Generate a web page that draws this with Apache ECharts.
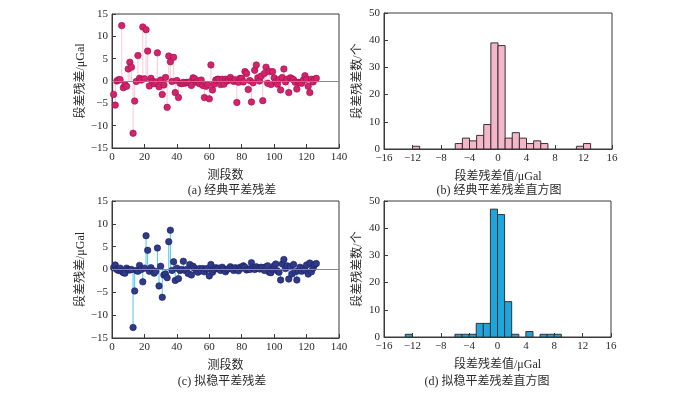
<!DOCTYPE html>
<html><head><meta charset="utf-8">
<script src="https://cdn.jsdelivr.net/npm/echarts@6/dist/echarts.min.js"></script>
<style>html,body{margin:0;padding:0;background:#fff}#c{width:700px;height:393px}</style>
</head><body><div id="c"></div>
<script>
// Residuals of segments 1..126 (μGal)
const residualsClassic = [
 -3.0,-5.4,0.0,0.3,0.3,12.4,-1.5,-0.8,-1.2,2.7,
 4.2,3.1,-11.7,-4.5,-0.1,5.7,0.6,0.2,12.1,0.5,
 11.5,6.7,-1.1,0.6,-0.1,-0.6,-0.2,6.3,-1.3,0.2,
 -3.0,-0.9,0.8,-5.9,5.6,4.3,-0.1,5.3,-2.6,0.1,
 -3.7,-0.5,-0.6,-0.3,-0.5,-0.3,-0.4,-0.2,-1.0,0.7,
 0.5,-0.3,0.0,-0.6,0.2,-1.0,-3.7,-1.2,-0.8,-4.0,
 3.6,-2.0,-0.7,0.2,0.4,0.4,-0.8,0.4,-0.7,0.4,
 0.0,0.3,0.8,0.2,-0.1,0.3,-4.8,-0.3,0.6,0.6,
 -0.2,2.1,1.7,-1.9,0.1,-4.7,-0.4,2.4,3.6,0.7,
 0.0,1.1,-4.4,1.7,3.1,-0.5,2.1,-0.8,2.1,0.7,
 -0.2,-0.7,0.3,-2.0,0.8,2.7,-0.2,0.4,-2.6,0.7,
 0.5,0.3,-0.3,-1.8,-0.3,-0.4,-0.5,0.2,1.2,0.4,
 -1.2,-2.6,0.4,-0.2,0.4,0.6
];
const residualsQuasi = [
 0.4,1.0,0.0,-0.2,0.3,-0.4,-0.7,-0.8,0.3,0.0,
 -0.1,0.0,-12.7,-4.7,-0.2,-0.4,0.9,0.0,-2.7,0.3,
 7.4,4.2,-0.4,0.4,-0.2,-0.8,-0.4,4.7,-3.6,0.7,
 -6.1,-1.2,-1.0,-1.8,6.1,8.6,-0.2,1.7,-2.4,0.3,
 -2.0,-0.2,0.0,1.8,-0.2,0.0,-0.9,1.1,-1.2,0.7,
 0.3,-0.2,-0.6,0.2,-0.3,0.2,-0.5,0.1,0.2,-1.4,
 1.1,-0.6,0.0,0.4,0.2,0.3,-0.2,0.5,0.1,-0.5,
 0.0,0.2,0.6,0.2,-0.2,0.4,0.1,-0.3,0.5,0.3,
 0.8,0.5,-0.1,0.1,0.0,1.5,0.3,0.0,0.6,0.3,
 0.1,0.5,0.4,-0.2,0.6,0.8,-0.6,-0.7,0.1,0.8,
 1.2,-0.3,-0.6,-2.3,1.2,2.2,0.2,0.8,-2.1,0.6,
 -1.0,1.1,-0.5,-2.3,-0.3,0.5,-0.4,0.2,-0.1,1.0,
 -1.0,1.4,-0.5,0.3,1.1,1.3
];
// Histogram bins (left edge of each 1-μGal bin) and counts
const histBinStartsClassic = [-12,-6,-5,-4,-3,-2,-1,0,1,2,3,4,5,6,11,12];
const histCountsClassic    = [1,2,4,3,5,9,39,38,4,6,4,2,3,2,1,2];
const histBinStartsQuasi   = [-13,-6,-5,-4,-3,-2,-1,0,1,2,4,6,7,8];
const histCountsQuasi      = [1,1,1,1,5,5,47,45,13,1,2,1,1,1];
const binWidth = 1;

const FONT = '"Liberation Serif","Noto Sans CJK SC",serif';
const TXT = '#2a2a2a';
const AX = '#3a3a3a';

const chart = echarts.init(document.getElementById('c'), null, {renderer:'canvas'});
const minusFmt = v => String(v).replace('-', '\u2212');

function xyPairs(arr){ return arr.map((v,i)=>[i+1, v]); }
function binTriples(starts, counts){ return starts.map((s,i)=>[s, s+binWidth, counts[i]]); }

function stemRender(color){
  return function(params, api){
    const x = api.value(0), y = api.value(1);
    const p0 = api.coord([x,0]), p1 = api.coord([x,y]);
    return {type:'line', shape:{x1:p0[0],y1:p0[1],x2:p1[0],y2:p1[1]}, style:{stroke:color, lineWidth:1}};
  };
}
function histRender(fill){
  return function(params, api){
    const lo = api.value(0), hi = api.value(1), c = api.value(2);
    const p0 = api.coord([lo,c]), p1 = api.coord([hi,0]);
    return {type:'rect', shape:{x:p0[0], y:p0[1], width:p1[0]-p0[0], height:p1[1]-p0[1]},
      style:{fill:fill, stroke:'#333', lineWidth:1}};
  };
}

function axisCommon(){
  return {
    axisLine:{show:true, onZero:false, lineStyle:{color:AX, width:1}},
    axisTick:{show:true, inside:true, length:4, lineStyle:{color:AX}},
    axisLabel:{color:TXT, fontFamily:FONT, fontSize:11, margin:4, formatter:minusFmt},
    splitLine:{show:false},
    nameTextStyle:{color:TXT, fontFamily:FONT, fontSize:12}
  };
}

const grids = [
  {left:112, top:14, width:227, height:134},
  {left:384, top:13, width:228, height:136},
  {left:112, top:201, width:227, height:137},
  {left:384, top:201, width:227, height:136}
].map(g=>Object.assign(g,{show:true, borderColor:AX, borderWidth:1, backgroundColor:'transparent'}));

const xAxes = [
  Object.assign(axisCommon(), {gridIndex:0, type:'value', min:0, max:140, interval:20, name:'测段数', nameLocation:'middle', nameGap:22}),
  Object.assign(axisCommon(), {gridIndex:1, type:'value', min:-16, max:16, interval:4, name:'段差残差值/μGal', nameLocation:'middle', nameGap:22}),
  Object.assign(axisCommon(), {gridIndex:2, type:'value', min:0, max:140, interval:20, name:'测段数', nameLocation:'middle', nameGap:22}),
  Object.assign(axisCommon(), {gridIndex:3, type:'value', min:-16, max:16, interval:4, name:'段差残差值/μGal', nameLocation:'middle', nameGap:22})
];
const yAxes = [
  Object.assign(axisCommon(), {gridIndex:0, type:'value', min:-15, max:15, interval:5, name:'段差残差/μGal', nameLocation:'middle', nameGap:22}),
  Object.assign(axisCommon(), {gridIndex:1, type:'value', min:0, max:50, interval:10, name:'段差残差数/个', nameLocation:'middle', nameGap:20}),
  Object.assign(axisCommon(), {gridIndex:2, type:'value', min:-15, max:15, interval:5, name:'段差残差/μGal', nameLocation:'middle', nameGap:22}),
  Object.assign(axisCommon(), {gridIndex:3, type:'value', min:0, max:50, interval:10, name:'段差残差数/个', nameLocation:'middle', nameGap:20})
];

const zeroLine = {silent:true, symbol:'none', label:{show:false},
  lineStyle:{color:'#8a8a8a', width:1, type:'solid'}, data:[{yAxis:0}]};

const series = [
  {type:'custom', xAxisIndex:0, yAxisIndex:0, renderItem:stemRender('#f8c9d8'), data:xyPairs(residualsClassic), encode:{x:0,y:1}, z:1, markLine:zeroLine},
  {type:'scatter', xAxisIndex:0, yAxisIndex:0, data:xyPairs(residualsClassic), symbolSize:6.5,
   itemStyle:{color:'#d5226d', borderColor:'#9a1048', borderWidth:0.6, opacity:1}, z:3},
  {type:'custom', xAxisIndex:1, yAxisIndex:1, renderItem:histRender('#f6b6ca'), data:binTriples(histBinStartsClassic, histCountsClassic), encode:{x:[0,1], y:2}},
  {type:'custom', xAxisIndex:2, yAxisIndex:2, renderItem:stemRender('#4fc4ee'), data:xyPairs(residualsQuasi), encode:{x:0,y:1}, z:1, markLine:zeroLine},
  {type:'scatter', xAxisIndex:2, yAxisIndex:2, data:xyPairs(residualsQuasi), symbolSize:6.5,
   itemStyle:{color:'#2f3a88', borderColor:'#1b2260', borderWidth:0.6, opacity:1}, z:3},
  {type:'custom', xAxisIndex:3, yAxisIndex:3, renderItem:histRender('#1ea6dc'), data:binTriples(histBinStartsQuasi, histCountsQuasi), encode:{x:[0,1], y:2}}
];

const captions = [
  {text:'(a) 经典平差残差', x:232, y:191},
  {text:'(b) 经典平差残差直方图', x:499, y:191},
  {text:'(c) 拟稳平差残差', x:222, y:382},
  {text:'(d) 拟稳平差残差直方图', x:487, y:382}
];

chart.setOption({
  animation:false,
  backgroundColor:'#fff',
  grid:grids, xAxis:xAxes, yAxis:yAxes, series:series,
  graphic:captions.map(c=>({type:'text', x:c.x, y:c.y, style:{text:c.text, fill:TXT, font:'12px '+FONT, textAlign:'center', textVerticalAlign:'middle'}}))
});
</script></body></html>
